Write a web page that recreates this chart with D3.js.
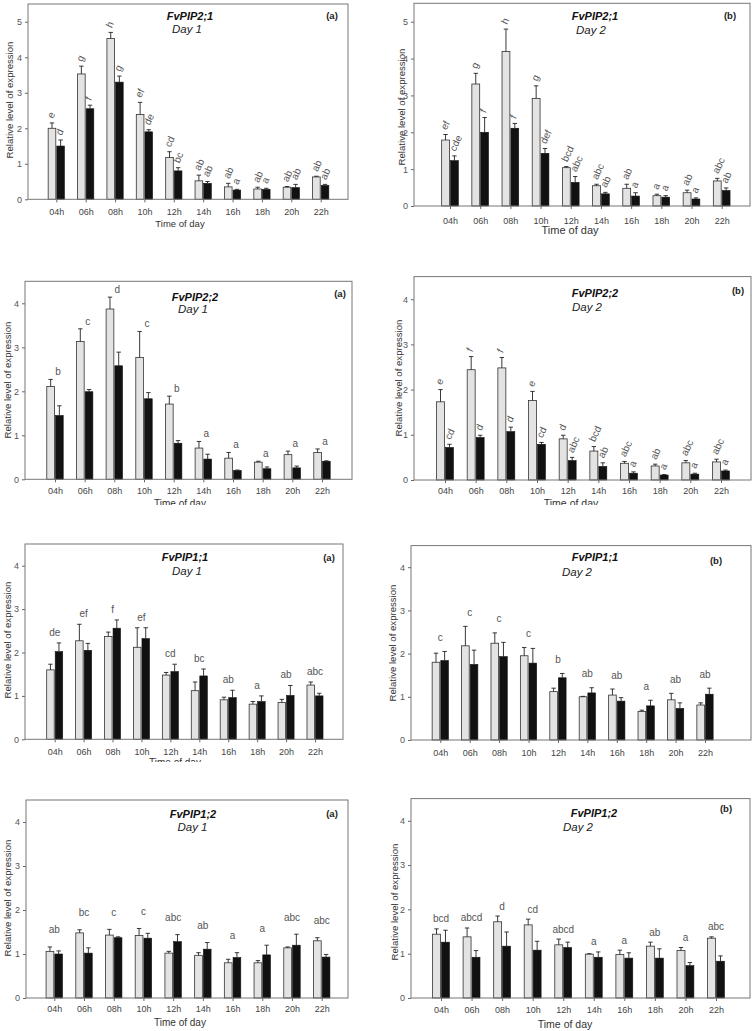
<!DOCTYPE html>
<html><head><meta charset="utf-8">
<script src="https://cdn.jsdelivr.net/npm/d3@7"></script>
<style>body{margin:0;background:#fff}svg{display:block}</style>
</head><body><svg id="chart" width="756" height="1031"></svg>
<script>
const times = ["04h","06h","08h","10h","12h","14h","16h","18h","20h","22h"];

// FvPIP2;1 Day 1
const pip21d1Grey   = [2.00, 3.53, 4.53, 2.39, 1.18, 0.52, 0.35, 0.29, 0.34, 0.63];
const pip21d1GreySe = [0.15, 0.22, 0.17, 0.34, 0.16, 0.16, 0.10, 0.05, 0.02, 0.02];
const pip21d1Black  = [1.50, 2.55, 3.30, 1.90, 0.80, 0.45, 0.26, 0.28, 0.33, 0.39];
const pip21d1BlackSe= [0.17, 0.10, 0.17, 0.06, 0.09, 0.05, 0.02, 0.03, 0.09, 0.03];
const pip21d1GreyLetters  = ["e","g","h","ef","cd","ab","ab","ab","ab","ab"];
const pip21d1BlackLetters = ["d","f","g","de","bc","ab","a","a","ab","ab"];

// FvPIP2;1 Day 2
const pip21d2Grey   = [1.79, 3.31, 4.19, 2.92, 1.04, 0.55, 0.48, 0.28, 0.36, 0.68];
const pip21d2GreySe = [0.15, 0.29, 0.61, 0.34, 0.03, 0.04, 0.11, 0.04, 0.07, 0.07];
const pip21d2Black  = [1.23, 2.00, 2.11, 1.43, 0.64, 0.33, 0.27, 0.24, 0.19, 0.42];
const pip21d2BlackSe= [0.13, 0.40, 0.13, 0.13, 0.16, 0.04, 0.09, 0.04, 0.03, 0.07];
const pip21d2GreyLetters  = ["ef","g","h","g","bcd","abc","ab","a","ab","abc"];
const pip21d2BlackLetters = ["cde","f","f","def","abc","ab","a","a","a","ab"];

// FvPIP2;2 Day 1
const pip22d1Grey   = [2.11, 3.13, 3.87, 2.77, 1.71, 0.71, 0.48, 0.39, 0.56, 0.61];
const pip22d1GreySe = [0.16, 0.29, 0.27, 0.59, 0.18, 0.15, 0.13, 0.02, 0.08, 0.08];
const pip22d1Black  = [1.45, 1.99, 2.58, 1.83, 0.82, 0.46, 0.20, 0.24, 0.26, 0.41];
const pip22d1BlackSe= [0.22, 0.05, 0.31, 0.14, 0.06, 0.11, 0.01, 0.04, 0.04, 0.01];
const pip22d1Letters = ["b","c","d","c","b","a","a","a","a","a"];

// FvPIP2;2 Day 2
const pip22d2Grey   = [1.73, 2.44, 2.48, 1.76, 0.91, 0.64, 0.37, 0.31, 0.38, 0.40];
const pip22d2GreySe = [0.27, 0.29, 0.23, 0.20, 0.08, 0.10, 0.04, 0.04, 0.05, 0.06];
const pip22d2Black  = [0.72, 0.94, 1.07, 0.79, 0.43, 0.30, 0.15, 0.11, 0.13, 0.20];
const pip22d2BlackSe= [0.07, 0.05, 0.10, 0.04, 0.07, 0.08, 0.03, 0.01, 0.02, 0.02];
const pip22d2GreyLetters  = ["e","f","f","e","d","bcd","abc","ab","abc","abc"];
const pip22d2BlackLetters = ["cd","d","d","cd","abc","ab","a","a","a","a"];

// FvPIP1;1 Day 1
const pip11d1Grey   = [1.60, 2.27, 2.37, 2.12, 1.48, 1.12, 0.91, 0.81, 0.85, 1.25];
const pip11d1GreySe = [0.13, 0.38, 0.10, 0.45, 0.06, 0.20, 0.06, 0.06, 0.07, 0.07];
const pip11d1Black  = [2.02, 2.05, 2.56, 2.32, 1.56, 1.46, 0.96, 0.87, 1.01, 1.00];
const pip11d1BlackSe= [0.20, 0.16, 0.19, 0.25, 0.17, 0.16, 0.17, 0.13, 0.23, 0.06];
const pip11d1Letters = ["de","ef","f","ef","cd","bc","ab","a","ab","abc"];

// FvPIP1;1 Day 2
const pip11d2Grey   = [1.80, 2.18, 2.24, 1.95, 1.12, 1.00, 1.04, 0.66, 0.93, 0.81];
const pip11d2GreySe = [0.21, 0.45, 0.24, 0.19, 0.08, 0.01, 0.14, 0.03, 0.15, 0.05];
const pip11d2Black  = [1.84, 1.75, 1.93, 1.78, 1.44, 1.09, 0.90, 0.79, 0.73, 1.06];
const pip11d2BlackSe= [0.21, 0.33, 0.33, 0.34, 0.10, 0.12, 0.08, 0.13, 0.13, 0.14];
const pip11d2Letters = ["c","c","c","c","b","ab","ab","a","ab","ab"];

// FvPIP1;2 Day 1
const pip12d1Grey   = [1.06, 1.48, 1.43, 1.42, 1.02, 0.97, 0.80, 0.80, 1.14, 1.30];
const pip12d1GreySe = [0.10, 0.07, 0.13, 0.16, 0.04, 0.06, 0.08, 0.05, 0.02, 0.07];
const pip12d1Black  = [1.00, 1.02, 1.37, 1.36, 1.28, 1.11, 0.92, 0.98, 1.20, 0.93];
const pip12d1BlackSe= [0.07, 0.12, 0.02, 0.11, 0.16, 0.15, 0.11, 0.22, 0.25, 0.06];
const pip12d1Letters = ["ab","bc","c","c","abc","ab","a","a","abc","abc"];

// FvPIP1;2 Day 2
const pip12d2Grey   = [1.44, 1.38, 1.72, 1.65, 1.20, 0.99, 0.98, 1.17, 1.07, 1.35];
const pip12d2GreySe = [0.12, 0.20, 0.13, 0.13, 0.13, 0.01, 0.10, 0.09, 0.07, 0.03];
const pip12d2Black  = [1.26, 0.92, 1.17, 1.08, 1.14, 0.92, 0.90, 0.90, 0.73, 0.83];
const pip12d2BlackSe= [0.27, 0.15, 0.32, 0.20, 0.12, 0.12, 0.12, 0.21, 0.07, 0.12];
const pip12d2Letters = ["bcd","abcd","d","cd","abcd","a","a","ab","a","abc"];

const geneNames = ["FvPIP2;1","FvPIP2;1","FvPIP2;2","FvPIP2;2","FvPIP1;1","FvPIP1;1","FvPIP1;2","FvPIP1;2"];
const dayNames  = ["Day 1","Day 2","Day 1","Day 2","Day 1","Day 2","Day 1","Day 2"];
const panelTags = ["(a)","(b)","(a)","(b)","(a)","(b)","(a)","(b)"];
const yTitle = "Relative level of expression";
const xTitle = "Time of day";

// layout (positions only)
const layouts = [
 {colX:0,  rowY:0,  clipB:245, left:28, right:348, top:4,   bottom:199.3, ymax:5.5, c0:56.3, c9:320.7, tickY:215.5, xtX:180, xtY:226.5, xtS:9.5, ytX:13, ytY:100, tX:190, tY:20, dX:187, dY:33, gX:332, gY:19, mode:"rot"},
 {colX:378,rowY:0,  clipB:245, left:414,right:750, top:3.3, bottom:206, ymax:5.5, c0:450, c9:721.7, tickY:223.5, xtX:570, xtY:234, xtS:11, ytX:405, ytY:107, tX:595, tY:20, dX:591, dY:34, gX:730, gY:19, mode:"rot"},
 {colX:0,  rowY:250,clipB:505, left:25, right:352, top:281.3, bottom:479.3, ymax:4.5, c0:55, c9:322, tickY:494, xtX:180, xtY:507, xtS:10, ytX:11, ytY:380, tX:195, tY:300.5, dX:193, dY:312.5, gX:340, gY:297, mode:"right"},
 {colX:378,rowY:250,clipB:505, left:414,right:751, top:276.6, bottom:480, ymax:4.5, c0:445, c9:721, tickY:494, xtX:571, xtY:507, xtS:10.5, ytX:401.5, ytY:378, tX:595, tY:297, dX:587, dY:311, gX:738, gY:294, mode:"rot"},
 {colX:0,  rowY:510,clipB:762, left:25, right:343, top:544, bottom:739.3, ymax:4.5, c0:54.7, c9:315, tickY:755, xtX:175, xtY:766, xtS:10, ytX:11, ytY:640, tX:185, tY:561, dX:187, dY:575, gX:329, gY:560.5, mode:"center", off:7},
 {colX:378,rowY:510,clipB:759, left:411,right:751, top:545.6, bottom:740, ymax:4.5, c0:440.3, c9:705, tickY:756, xtX:570, xtY:767, xtS:10.5, ytX:395.5, ytY:643, tX:595, tY:560.5, dX:577, dY:576, gX:716, gY:564, mode:"center", off:10.5},
 {colX:0,  rowY:775,clipB:1031,left:26, right:348, top:800, bottom:998, ymax:4.5, c0:54.3, c9:321.7, tickY:1011.5, xtX:180, xtY:1026, xtS:10, ytX:11, ytY:898, tX:193, tY:818, dX:192.5, dY:831, gX:332, gY:817, mode:"center", off:13.5},
 {colX:378,rowY:775,clipB:1031,left:411,right:750, top:798.6, bottom:998, ymax:4.5, c0:441, c9:716, tickY:1013, xtX:565, xtY:1028, xtS:10.5, ytX:398, ytY:902, tX:594, tY:817, dX:578, dY:831, gX:726, gY:812, mode:"center", off:6.5}
];

const series = [
 {grey:pip21d1Grey, greySe:pip21d1GreySe, black:pip21d1Black, blackSe:pip21d1BlackSe, gl:pip21d1GreyLetters, bl:pip21d1BlackLetters},
 {grey:pip21d2Grey, greySe:pip21d2GreySe, black:pip21d2Black, blackSe:pip21d2BlackSe, gl:pip21d2GreyLetters, bl:pip21d2BlackLetters},
 {grey:pip22d1Grey, greySe:pip22d1GreySe, black:pip22d1Black, blackSe:pip22d1BlackSe, letters:pip22d1Letters},
 {grey:pip22d2Grey, greySe:pip22d2GreySe, black:pip22d2Black, blackSe:pip22d2BlackSe, gl:pip22d2GreyLetters, bl:pip22d2BlackLetters},
 {grey:pip11d1Grey, greySe:pip11d1GreySe, black:pip11d1Black, blackSe:pip11d1BlackSe, letters:pip11d1Letters},
 {grey:pip11d2Grey, greySe:pip11d2GreySe, black:pip11d2Black, blackSe:pip11d2BlackSe, letters:pip11d2Letters},
 {grey:pip12d1Grey, greySe:pip12d1GreySe, black:pip12d1Black, blackSe:pip12d1BlackSe, letters:pip12d1Letters},
 {grey:pip12d2Grey, greySe:pip12d2GreySe, black:pip12d2Black, blackSe:pip12d2BlackSe, letters:pip12d2Letters}
];

const FONT = '"Liberation Sans", Arial, Helvetica, sans-serif';
const svg = d3.select("#chart");
const defs = svg.append("defs");

series.forEach((s, i) => {
  const L = layouts[i];
  defs.append("clipPath").attr("id", "clip" + i).append("rect")
    .attr("x", L.colX).attr("y", L.rowY).attr("width", 378).attr("height", L.clipB - L.rowY);
  const g = svg.append("g").attr("clip-path", `url(#clip${i})`);
  const x = d3.scalePoint().domain(times).range([L.c0, L.c9]);
  const y = d3.scaleLinear().domain([0, L.ymax]).range([L.bottom, L.top]);
  const bw = x.step() * 0.26, gap = 1;
  const rows = times.map((t, k) => ({t, k, g: s.grey[k], gs: s.greySe[k], b: s.black[k], bs: s.blackSe[k]}));
  const gC = d => x(d.t) - gap / 2 - bw / 2;
  const bC = d => x(d.t) + gap / 2 + bw / 2;

  // y axis
  const ya = g.append("g").attr("transform", `translate(${L.left},0)`)
    .call(d3.axisLeft(y).tickValues(d3.range(0, Math.floor(L.ymax) + 1)).tickSize(3).tickPadding(3).tickFormat(d3.format("d")));
  ya.select(".domain").remove();
  ya.selectAll("line").attr("stroke", "#666");
  ya.selectAll("text").attr("fill", "#555").style("font-family", FONT).style("font-size", "9px");

  // x axis
  const xa = g.append("g").attr("transform", `translate(0,${L.bottom})`)
    .call(d3.axisBottom(x).tickSize(3));
  xa.select(".domain").remove();
  xa.selectAll("line").attr("stroke", "#666");
  xa.selectAll("text").attr("y", L.tickY - L.bottom).attr("dy", null)
    .attr("fill", "#444").style("font-family", FONT).style("font-size", "9px");

  // bars
  g.selectAll(".gb").data(rows).join("rect").attr("class", "gb")
    .attr("x", d => gC(d) - bw / 2).attr("y", d => y(d.g))
    .attr("width", bw).attr("height", d => y(0) - y(d.g))
    .attr("fill", "#e3e3e3").attr("stroke", "#333").attr("stroke-width", 0.8);
  g.selectAll(".bb").data(rows).join("rect").attr("class", "bb")
    .attr("x", d => bC(d) - bw / 2).attr("y", d => y(d.b))
    .attr("width", bw).attr("height", d => y(0) - y(d.b))
    .attr("fill", "#111").attr("stroke", "#111").attr("stroke-width", 0.6);

  // error bars
  const errs = [];
  rows.forEach(d => {
    errs.push({cx: gC(d), v: d.g, e: d.g + d.gs});
    errs.push({cx: bC(d), v: d.b, e: d.b + d.bs});
  });
  const eg = g.append("g").attr("stroke", "#222").attr("stroke-width", 0.9);
  eg.selectAll(".ev").data(errs).join("line")
    .attr("x1", d => d.cx).attr("x2", d => d.cx).attr("y1", d => y(d.v)).attr("y2", d => y(d.e));
  eg.selectAll(".ec").data(errs).join("line")
    .attr("x1", d => d.cx - 2.2).attr("x2", d => d.cx + 2.2).attr("y1", d => y(d.e)).attr("y2", d => y(d.e));

  // significance letters
  const lg = g.append("g").attr("fill", "#555").style("font-family", FONT).style("font-size", "10px");
  if (L.mode === "rot") {
    const lab = [];
    rows.forEach(d => {
      lab.push({cx: gC(d), e: d.g + d.gs, txt: s.gl[d.k]});
      lab.push({cx: bC(d), e: d.b + d.bs, txt: s.bl[d.k]});
    });
    lg.selectAll("text").data(lab).join("text")
      .attr("transform", d => `translate(${d.cx + 1},${y(d.e) - 4}) rotate(-65)`)
      .attr("text-anchor", "start").text(d => d.txt);
  } else if (L.mode === "right") {
    lg.selectAll("text").data(rows).join("text")
      .attr("x", d => x(d.t) + 3).attr("y", d => y(d.g + d.gs) - 4)
      .attr("text-anchor", "middle").text(d => s.letters[d.k]);
  } else {
    lg.selectAll("text").data(rows).join("text")
      .attr("x", d => x(d.t)).attr("y", d => y(Math.max(d.g + d.gs, d.b + d.bs)) - L.off)
      .attr("text-anchor", "middle").text(d => s.letters[d.k]);
  }

  // frame
  g.append("rect").attr("x", L.left).attr("y", L.top)
    .attr("width", L.right - L.left).attr("height", L.bottom - L.top)
    .attr("fill", "none").attr("stroke", "#777").attr("stroke-width", 1);

  // titles
  g.append("text").attr("x", L.tX).attr("y", L.tY).attr("text-anchor", "middle")
    .style("font-family", FONT).style("font-size", "11px").style("font-weight", "bold").style("font-style", "italic")
    .attr("fill", "#111").text(geneNames[i]);
  g.append("text").attr("x", L.dX).attr("y", L.dY).attr("text-anchor", "middle")
    .style("font-family", FONT).style("font-size", "11.5px").style("font-style", "italic")
    .attr("fill", "#222").text(dayNames[i]);
  g.append("text").attr("x", L.gX).attr("y", L.gY).attr("text-anchor", "middle")
    .style("font-family", FONT).style("font-size", "9.5px").style("font-weight", "bold")
    .attr("fill", "#222").text(panelTags[i]);
  g.append("text").attr("transform", `translate(${L.ytX},${L.ytY}) rotate(-90)`).attr("text-anchor", "middle")
    .style("font-family", FONT).style("font-size", "9.6px").attr("fill", "#333").text(yTitle);
  g.append("text").attr("x", L.xtX).attr("y", L.xtY).attr("text-anchor", "middle")
    .style("font-family", FONT).style("font-size", L.xtS + "px").attr("fill", "#333").text(xTitle);
});
</script></body></html>
